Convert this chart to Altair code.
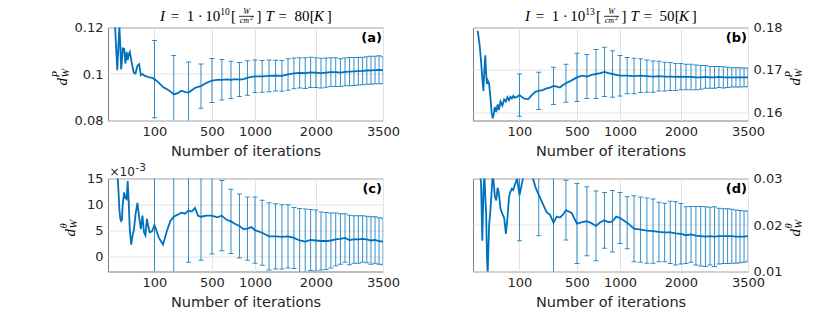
import altair as alt
import pandas as pd

# ---------------- data ----------------
ITER = [1, 2, 3, 4, 5, 6, 7, 8, 9, 10, 12, 14, 16, 18, 20, 22, 25, 28, 31, 35,
        40, 45, 50, 55, 60, 65, 70, 75, 80, 90,
        100, 120, 140, 160, 180, 200, 225, 250, 275, 300, 325, 350, 375, 400, 450, 500,
        550, 600, 650, 700, 750, 800, 850, 900, 950, 1000,
        1100, 1200, 1300, 1400, 1500, 1600, 1700, 1800, 1900, 2000, 2100, 2200, 2300, 2400,
        2500, 2600, 2700, 2800, 2900, 3000, 3100, 3200, 3300, 3400, 3500]

BARS = [100, 200, 300, 400, 500, 600, 700, 800, 900, 1000,
        1100, 1200, 1300, 1400, 1500, 1600, 1700, 1800, 1900, 2000,
        2100, 2200, 2300, 2400, 2500, 2600, 2700, 2800, 2900, 3000,
        3100, 3200, 3300, 3400, 3500]

X_TICKS = [100, 500, 1000, 2000, 3500]

# (a) d_W^P, I=1e10, T=80K
A_VALS = [0.135, 0.125, 0.112, 0.1016, 0.112, 0.121, 0.112, 0.102, 0.106, 0.111,
          0.1109, 0.1045, 0.1095, 0.106, 0.1085, 0.1095, 0.106, 0.103, 0.1005, 0.1002,
          0.1035, 0.1042, 0.0995, 0.1000, 0.0995, 0.0990, 0.0990, 0.0987, 0.0985, 0.0983,
          0.0978, 0.0962, 0.0944, 0.0935, 0.0925, 0.0912, 0.0918, 0.0928, 0.0922, 0.0920,
          0.0930, 0.0940, 0.0945, 0.0948, 0.0962, 0.0972,
          0.0975, 0.0975, 0.0977, 0.0975, 0.0978, 0.0976, 0.0978, 0.0983, 0.0988, 0.0990,
          0.0990, 0.0992, 0.0993, 0.0992, 0.0998, 0.1003, 0.1005, 0.1004, 0.1007, 0.1006,
          0.1004, 0.1006, 0.1008, 0.1008, 0.1006, 0.1009, 0.1010, 0.1011, 0.1012, 0.1013,
          0.1015, 0.1016, 0.1017, 0.1018, 0.1016]
A_ERR = [0.0166, 0.0168, 0.0132, 0.0095, 0.0095, 0.0087, 0.0080, 0.0073, 0.0074, 0.0070,
         0.0068, 0.0068, 0.0066, 0.0066, 0.0068, 0.0066, 0.0065, 0.0066, 0.0065, 0.0064,
         0.0064, 0.0063, 0.0062, 0.0062, 0.0060, 0.0060, 0.0061, 0.0060, 0.0059, 0.0059,
         0.0059, 0.0060, 0.0059, 0.0060, 0.0058]

# (b) d_W^P, I=1e13, T=50K
B_VALS = [0.1792, 0.1760, 0.1720, 0.1680, 0.1650, 0.1700, 0.1734, 0.1690, 0.1666, 0.1675,
          0.1668, 0.1635, 0.1600, 0.1585, 0.1595, 0.1612, 0.1600, 0.1618, 0.1605, 0.1625,
          0.1615, 0.1630, 0.1625, 0.1635, 0.1628, 0.1636, 0.1632, 0.1638, 0.1634, 0.1636,
          0.1640, 0.1632, 0.1630, 0.1640, 0.1648, 0.1650, 0.1652, 0.1656, 0.1658, 0.1662,
          0.1660, 0.1658, 0.1664, 0.1668, 0.1675, 0.1682,
          0.1686, 0.1684, 0.1688, 0.1690, 0.1692, 0.1695, 0.1692, 0.1690, 0.1688, 0.1686,
          0.1686, 0.1685, 0.1686, 0.1685, 0.1684, 0.1685, 0.1684, 0.1684, 0.1683, 0.1684,
          0.1683, 0.1683, 0.1682, 0.1682, 0.1683, 0.1682, 0.1682, 0.1683, 0.1682, 0.1682,
          0.1682, 0.1682, 0.1682, 0.1682, 0.1682]
B_ERR = [0.0050, 0.0044, 0.0044, 0.0045, 0.0057, 0.0052, 0.0058, 0.0058, 0.0055, 0.0048,
         0.0043, 0.0042, 0.0040, 0.0038, 0.0037, 0.0035, 0.0034, 0.0033, 0.0032, 0.0031,
         0.0030, 0.0030, 0.0029, 0.0028, 0.0027, 0.0026, 0.0026, 0.0025, 0.0025, 0.0024,
         0.0023, 0.0023, 0.0023, 0.0022, 0.0022]

# (c) d_W^theta (x 1e-3), I=1e10, T=80K
C_VALS = [30, 25, 20, 16, 13, 9.0, 7.2, 6.8, 7.0, 10.0,
          12.3, 11.2, 11.0, 14.5, 10.0, 5.0, 2.2, 4.0, 5.0, 8.0,
          10.3, 7.5, 5.2, 7.8, 4.6, 4.0, 7.2, 5.8, 4.6, 4.8,
          6.0, 3.5, 2.2, 4.8, 6.8, 7.6, 8.0, 8.4, 8.2, 8.8,
          8.6, 9.3, 7.8, 7.6, 7.8, 7.8,
          7.5, 7.8, 7.0, 6.7, 6.2, 5.8, 5.2, 5.3, 5.6, 5.0,
          4.5, 3.8, 3.8, 3.7, 3.8, 3.5, 3.0, 2.8, 3.1, 3.0,
          2.9, 2.9, 3.0, 3.2, 3.3, 3.5, 3.1, 3.2, 3.2, 3.3,
          3.2, 3.0, 3.1, 2.9, 2.8]
C_ERR = [14.0, 13.5, 10.0, 8.4, 7.4, 6.8, 6.2, 6.2, 6.1, 6.4,
         6.3, 6.5, 6.3, 6.2, 6.1, 5.9, 6.2, 6.3, 5.9, 5.9,
         5.6, 5.5, 5.3, 5.1, 4.9, 4.7, 4.8, 4.6, 4.6, 4.5,
         4.5, 4.6, 4.5, 4.5, 4.5]

# (d) d_W^theta, I=1e13, T=50K
D_VALS = [0.035, 0.032, 0.029, 0.0166, 0.027, 0.031, 0.026, 0.0224, 0.013, 0.0095,
          0.020, 0.0231, 0.027, 0.031, 0.029, 0.0262, 0.0253, 0.028, 0.0268, 0.0235,
          0.0224, 0.0215, 0.0181, 0.0215, 0.026, 0.0272, 0.0278, 0.0275, 0.0285, 0.030,
          0.0264, 0.031, 0.032, 0.031, 0.0282, 0.0265, 0.0246, 0.0228, 0.0222, 0.0205,
          0.0218, 0.0216, 0.0222, 0.0232, 0.0226, 0.0203,
          0.0206, 0.0208, 0.0204, 0.0198, 0.0206, 0.0210, 0.0206, 0.0208, 0.0218, 0.0215,
          0.0205, 0.0192, 0.0190, 0.0188, 0.0187, 0.0185, 0.0184, 0.0184, 0.0182, 0.0181,
          0.0178, 0.0180, 0.0177, 0.0176, 0.0175, 0.0176, 0.0175, 0.0176, 0.0176, 0.0176,
          0.0176, 0.0175, 0.0175, 0.0175, 0.0176]
D_ERR = [0.0098, 0.0088, 0.0125, 0.0064, 0.0086, 0.0074, 0.0075, 0.0060, 0.0066, 0.0055,
         0.0056, 0.0071, 0.0070, 0.0070, 0.0069, 0.0064, 0.0063, 0.0067, 0.0068, 0.0065,
         0.0061, 0.0060, 0.0063, 0.0064, 0.0064, 0.0062, 0.0064, 0.0060, 0.0059, 0.0059,
         0.0058, 0.0057, 0.0056, 0.0055, 0.0054]

# ---------------- styling ----------------
BLUE = "#0072BD"
SERIF = "Liberation Serif"
SANS = "DejaVu Sans"
W, H = 275, 93
ONE = pd.DataFrame({"k": [0]})


def txt(s, x, y, size=15, style="normal", weight="normal", font=SERIF,
        align="left", angle=0, color="#000000"):
    return alt.Chart(ONE).mark_text(
        text=s, font=font, fontSize=size, fontStyle=style, fontWeight=weight,
        align=align, baseline="alphabetic", angle=angle, color=color
    ).encode(x=alt.value(x), y=alt.value(y))


def hbar(x1, x2, y):
    return alt.Chart(ONE).mark_rule(color="#000000", strokeWidth=0.8).encode(
        x=alt.value(x1), x2=alt.value(x2), y=alt.value(y))


def title_layers(exp, temp):
    X0 = W / 2 - 85.5
    BL = -7
    return [
        txt("I", X0, BL, style="italic"),
        txt("=", X0 + 10.8, BL),
        txt("1", X0 + 26.8, BL),
        txt("·", X0 + 37.7, BL),
        txt("10", X0 + 45.2, BL),
        txt(exp, X0 + 60.3, BL - 5.5, size=9.5),
        txt("[", X0 + 70.9, BL),
        txt("W", X0 + 86.5, BL - 6.2, size=8, style="italic", align="center"),
        hbar(X0 + 79, X0 + 94, BL - 4.2),
        txt("cm", X0 + 84.3, BL + 2.6, size=8, style="italic", align="center"),
        txt("2", X0 + 90, BL - 0.6, size=6),
        txt("]", X0 + 96.4, BL),
        txt("T", X0 + 105.6, BL, style="italic"),
        txt("=", X0 + 118.6, BL),
        txt(temp, X0 + 134.6, BL),
        txt("[", X0 + 149.7, BL),
        txt("K", X0 + 153.9, BL, style="italic"),
        txt("]", X0 + 166.7, BL),
    ]


def ylabel_layers(B, sup):
    y0 = 58
    return [
        txt("d", B, y0, style="italic", angle=270),
        txt("W", B + 2, y0 - 8, size=10.5, style="italic", angle=270),
        txt(sup, B - 8, y0 - 8, size=10.5, style="italic", angle=270),
    ]


def panel(vals, err, ydom, yticks, yorient, label, extra):
    lookup = dict(zip(ITER, vals))
    curve = pd.DataFrame({"n": ITER, "v": vals})
    bars = pd.DataFrame({
        "n": BARS,
        "lo": [lookup[n] - e for n, e in zip(BARS, err)],
        "hi": [lookup[n] + e for n, e in zip(BARS, err)],
    })
    xs = alt.Scale(type="sqrt", domain=[0, 3500], nice=False, zero=False)
    ys = alt.Scale(domain=ydom, nice=False, zero=False)
    xax = alt.Axis(values=X_TICKS, title="Number of iterations", format="d",
                   labelFlush=False, labelOverlap=False, ticks=False, domain=False,
                   grid=True, labelPadding=5, titlePadding=6)
    yax = alt.Axis(values=yticks, orient=yorient, title=None, format="~g",
                   labelFlush=False, labelOverlap=False, ticks=False, domain=False,
                   grid=True, labelPadding=5)
    X = alt.X("n:Q", scale=xs, axis=xax)
    line = alt.Chart(curve).mark_line(color=BLUE, strokeWidth=1.8, clip=True).encode(
        x=X, y=alt.Y("v:Q", scale=ys, axis=yax))
    rule = alt.Chart(bars).mark_rule(color=BLUE, strokeWidth=1, opacity=0.8, clip=True).encode(
        x=X, y=alt.Y("lo:Q", scale=ys, axis=yax), y2="hi:Q")
    cap_lo = alt.Chart(bars).mark_tick(color=BLUE, orient="horizontal", size=5, thickness=1,
                                       opacity=0.8, clip=True).encode(
        x=X, y=alt.Y("lo:Q", scale=ys, axis=yax))
    cap_hi = alt.Chart(bars).mark_tick(color=BLUE, orient="horizontal", size=5, thickness=1,
                                       opacity=0.8, clip=True).encode(
        x=X, y=alt.Y("hi:Q", scale=ys, axis=yax))
    lab = txt(label, W - 1, 14.5, size=13, weight="bold", font=SANS, align="right")
    return alt.layer(rule, cap_lo, cap_hi, line, lab, *extra).properties(width=W, height=H)


anchor = alt.Chart(ONE).mark_rule(opacity=0, strokeWidth=1).encode(
    x=alt.value(-99.5), x2=alt.value(-99.5), y=alt.value(-20), y2=alt.value(-20))

pa = panel(A_VALS, A_ERR, [0.08, 0.12], [0.08, 0.1, 0.12], "left", "(a)",
           title_layers("10", "80") + ylabel_layers(-41, "P") + [anchor])
pb = panel(B_VALS, B_ERR, [0.158, 0.18], [0.16, 0.17, 0.18], "right", "(b)",
           title_layers("13", "50") + ylabel_layers(327, "P"))
pc = panel(C_VALS, C_ERR, [-3, 15], [0, 5, 10, 15], "left", "(c)",
           ylabel_layers(-33, "θ") + [
               txt("×10", 1.5, -3, size=12, font=SANS, color="#262626"),
               txt("-3", 27.5, -7.5, size=10.5, font=SANS, color="#262626")])
pd_ = panel(D_VALS, D_ERR, [0.01, 0.03], [0.01, 0.02, 0.03], "right", "(d)",
            ylabel_layers(327, "θ"))

chart = alt.concat(pa, pb, pc, pd_, columns=2, spacing={"row": 58, "column": 90},
                   bounds="flush").properties(
    padding={"top": -1.5, "left": 0, "right": 0, "bottom": 0}).configure_view(
    stroke="#7f7f7f", strokeWidth=1).configure_axis(
    labelFont=SANS, labelFontSize=13, labelColor="#262626",
    titleFont=SANS, titleFontSize=14.5, titleColor="#262626", titleFontWeight="normal",
    gridColor="#e3e3e3", gridWidth=1)

chart.save("out.html", embed_options={"renderer": "svg", "actions": False})
